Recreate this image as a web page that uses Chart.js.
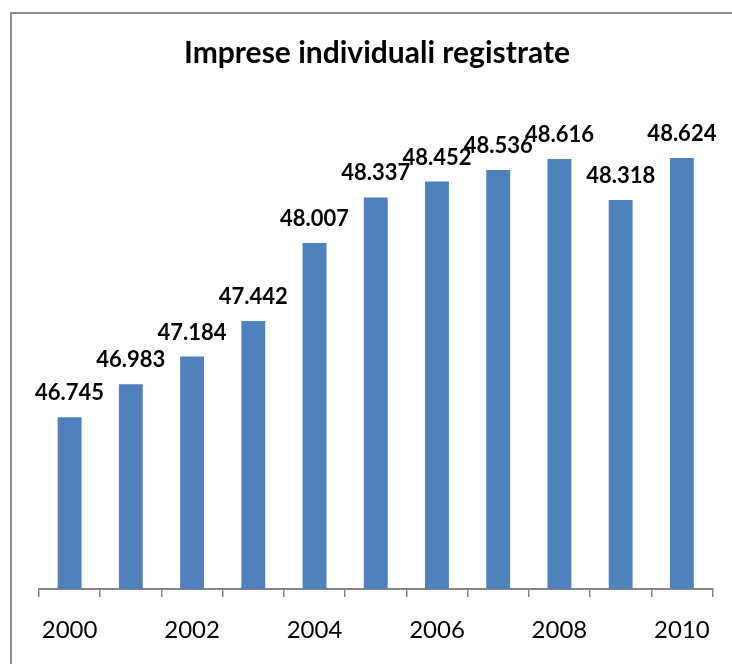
<!DOCTYPE html>
<html>
<head>
<meta charset="utf-8">
<title>Imprese individuali registrate</title>
<script src="https://cdn.jsdelivr.net/npm/chart.js@4.4.1/dist/chart.umd.min.js"></script>
<style>
  html, body { margin: 0; padding: 0; background: #fff; }
  #wrap { position: relative; width: 732px; height: 664px; overflow: hidden; }
  #frame {
    position: absolute; left: 10px; top: 12px; width: 760px; height: 700px;
    border-left: 2px solid #8c8c8c; border-top: 2px solid #8c8c8c;
  }
  canvas { position: absolute; left: 0; top: 0; }
</style>
</head>
<body>
<div id="wrap">
  <div id="frame"></div>
  <canvas id="chart" width="732" height="664"></canvas>
</div>
<script>
const years = ['2000', '2001', '2002', '2003', '2004', '2005', '2006', '2007', '2008', '2009', '2010'];
const imprese = [46745, 46983, 47184, 47442, 48007, 48337, 48452, 48536, 48616, 48318, 48624];
const yMin = 45500;
const yMax = 49000;

const FONT = 'Lato, "Liberation Sans", sans-serif';

// numbers written the Italian way: 46.745
function fmt(v) {
    return String(v).replace(/\B(?=(\d{3})+(?!\d))/g, '.');
}

const valueLabels = {
    id: 'valueLabels',
    afterDatasetsDraw(chart) {
        const ctx = chart.ctx;
        const meta = chart.getDatasetMeta(0);
        ctx.save();
        ctx.font = 'bold 22px ' + FONT;
        ctx.fillStyle = '#000';
        ctx.textAlign = 'center';
        ctx.textBaseline = 'alphabetic';
        meta.data.forEach((bar, i) => {
            ctx.fillText(fmt(imprese[i]), bar.x, bar.y - 17);
        });
        ctx.restore();
    }
};

new Chart(document.getElementById('chart'), {
    type: 'bar',
    data: {
        labels: years,
        datasets: [{
            label: 'Imprese individuali registrate',
            data: imprese,
            backgroundColor: '#4F81BD',
            borderWidth: 0,
            categoryPercentage: 1,
            barPercentage: 0.39
        }]
    },
    options: {
        responsive: false,
        animation: false,
        devicePixelRatio: 1,
        layout: {
            padding: { left: 39, right: 17, top: 0, bottom: 0 }
        },
        plugins: {
            legend: { display: false },
            tooltip: { enabled: false },
            title: {
                display: true,
                text: 'Imprese individuali registrate',
                color: '#000',
                font: { family: FONT, size: 30, weight: 'bold' },
                padding: { top: 35, bottom: 35 }
            }
        },
        scales: {
            x: {
                grid: {
                    display: true,
                    drawOnChartArea: false,
                    drawTicks: true,
                    tickLength: 8,
                    color: '#868686',
                    lineWidth: 1.5
                },
                border: { display: true, color: '#868686', width: 2 },
                ticks: {
                    autoSkip: false,
                    maxRotation: 0,
                    padding: 21.5,
                    color: '#000',
                    font: { family: FONT, size: 24, lineHeight: 1 },
                    callback: (val, i) => (i % 2 === 0 ? years[i] : '')
                }
            },
            y: {
                display: false,
                min: yMin,
                max: yMax
            }
        }
    },
    plugins: [valueLabels]
});
</script>
</body>
</html>
